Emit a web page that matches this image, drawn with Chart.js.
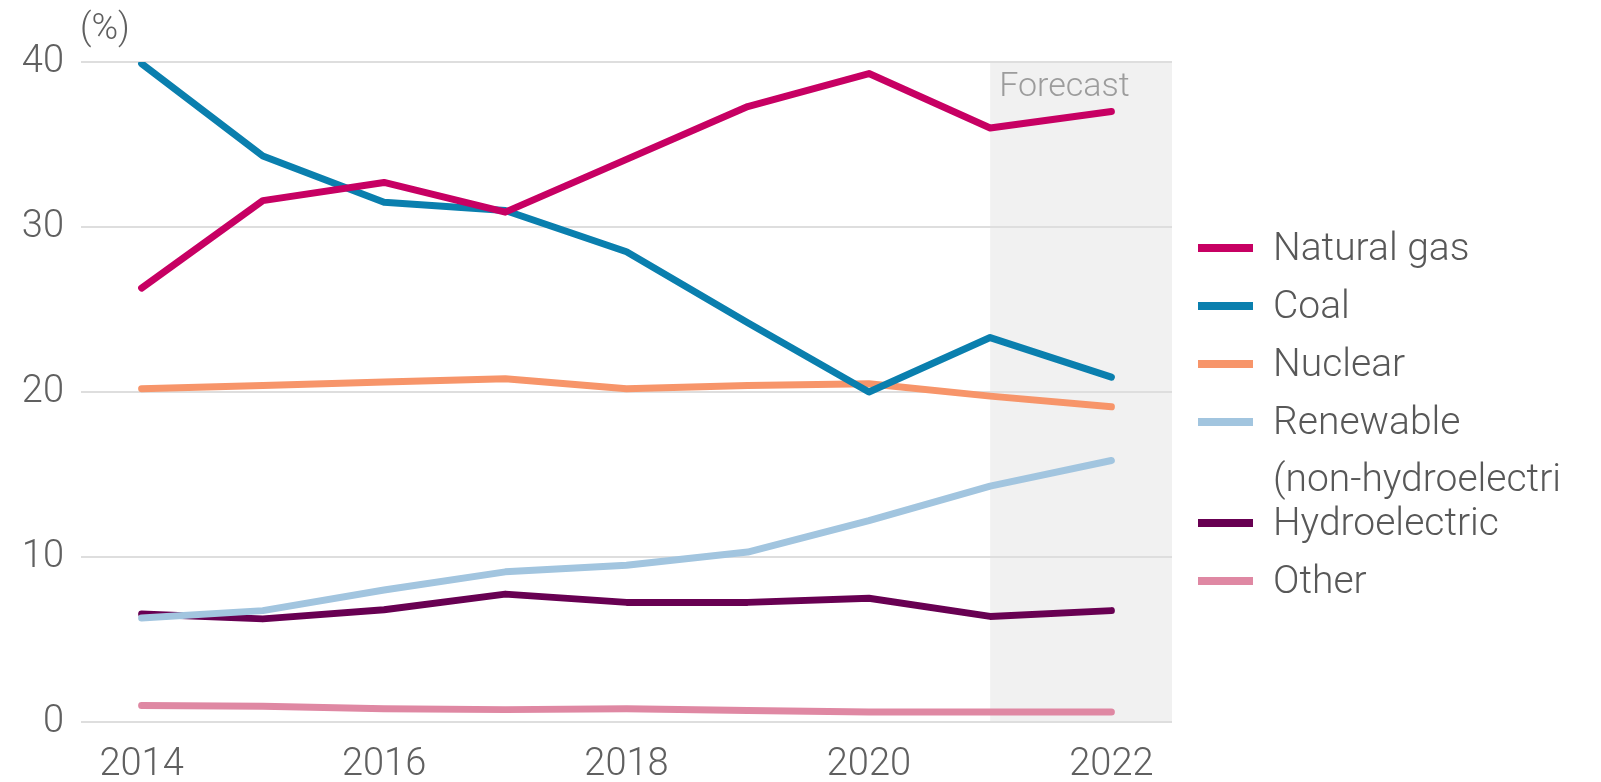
<!DOCTYPE html>
<html>
<head>
<meta charset="utf-8">
<script src="https://cdn.jsdelivr.net/npm/chart.js@4.4.0/dist/chart.umd.min.js"></script>
<style>
  html, body { margin: 0; padding: 0; background: #fff; }
</style>
</head>
<body>
<canvas id="myChart" width="1601" height="782"></canvas>
<script>
// values, share of generation in %
const years = ['2014', '2015', '2016', '2017', '2018', '2019', '2020', '2021', '2022'];
const xTickLabels = ['2014', '2016', '2018', '2020', '2022'];
const yTicks = [0, 10, 20, 30, 40];
const forecastFrom = '2021';

const naturalGas = [26.3, 31.6, 32.7, 30.9, 34.1, 37.3, 39.3, 36.0, 37.0];
const coal = [39.9, 34.3, 31.5, 31.0, 28.5, 24.2, 20.0, 23.3, 20.9];
const nuclear = [20.2, 20.4, 20.6, 20.8, 20.2, 20.4, 20.5, 19.75, 19.1];
const renewable = [6.3, 6.75, 8.0, 9.1, 9.5, 10.3, 12.2, 14.3, 15.85];
const hydro = [6.55, 6.25, 6.8, 7.75, 7.25, 7.25, 7.5, 6.4, 6.75];
const other = [1.0, 0.95, 0.8, 0.75, 0.8, 0.7, 0.6, 0.6, 0.6];

const seriesNames = ['Natural gas', 'Coal', 'Nuclear', ['Renewable', '(non-hydroelectri'], 'Hydroelectric', 'Other'];
const seriesColors = ['#c70063', '#0a7fae', '#f7956a', '#a2c5df', '#680052', '#df88a3'];
const seriesValues = [naturalGas, coal, nuclear, renewable, hydro, other];

const FONT = 'Roboto';
const TEXT = '#606060';

// grey band behind the forecast years
const forecastBand = {
  id: 'forecastBand',
  beforeDraw(chart) {
    const { ctx, chartArea, scales } = chart;
    const x0 = scales.x.getPixelForValue(years.indexOf(forecastFrom));
    ctx.save();
    ctx.fillStyle = '#f1f1f1';
    ctx.fillRect(x0, chartArea.top, chartArea.right - x0, chartArea.bottom - chartArea.top);
    ctx.fillStyle = '#9c9c9c';
    ctx.font = '300 34px ' + FONT;
    ctx.textBaseline = 'middle';
    ctx.textAlign = 'left';
    ctx.fillText('Forecast', x0 + 9, chartArea.top + 25);
    // unit label
    ctx.fillStyle = TEXT;
    ctx.font = '300 36px ' + FONT;
    ctx.fillText('(%)', 80, 30);
    ctx.restore();
  }
};

// legend on the right, with a two-line entry
const sideLegend = {
  id: 'sideLegend',
  afterDraw(chart) {
    const { ctx } = chart;
    let y = 248;
    ctx.save();
    ctx.font = '300 39px ' + FONT;
    ctx.textBaseline = 'middle';
    ctx.textAlign = 'left';
    chart.data.datasets.forEach((ds) => {
      const lines = Array.isArray(ds.label) ? ds.label : [ds.label];
      ctx.strokeStyle = ds.borderColor;
      ctx.lineWidth = 8;
      ctx.lineCap = 'butt';
      ctx.beginPath();
      ctx.moveTo(1198, y);
      ctx.lineTo(1253, y);
      ctx.stroke();
      ctx.fillStyle = '#585858';
      lines.forEach((t, i) => ctx.fillText(t, 1273, y + 2 + i * 57));
      y += 58 + (lines.length - 1) * 43;
    });
    ctx.restore();
  }
};

const ctx = document.getElementById('myChart');
new Chart(ctx, {
  type: 'line',
  data: {
    labels: years,
    datasets: seriesValues.map((vals, i) => ({
      label: seriesNames[i],
      data: vals,
      borderColor: seriesColors[i],
      backgroundColor: seriesColors[i],
      borderWidth: 7,
      pointRadius: 0,
      tension: 0,
      borderCapStyle: 'round',
      borderJoinStyle: 'round'
    }))
  },
  options: {
    responsive: false,
    animation: false,
    devicePixelRatio: 1,
    layout: { padding: { top: 62, right: 429, left: 0, bottom: 0 } },
    plugins: {
      legend: { display: false },
      tooltip: { enabled: false }
    },
    scales: {
      x: {
        offset: true,
        grid: { display: false, drawTicks: false },
        border: { display: false },
        ticks: {
          autoSkip: false,
          maxRotation: 0,
          padding: 21,
          color: TEXT,
          font: { family: FONT, size: 38, weight: '300' },
          callback: function(value, index) {
            return xTickLabels.includes(years[index]) ? years[index] : '';
          }
        },
        afterFit: (s) => { s.height = 60; }
      },
      y: {
        min: yTicks[0],
        max: yTicks[yTicks.length - 1],
        afterBuildTicks: (s) => { s.ticks = yTicks.map(v => ({ value: v })); },
        grid: { color: '#dedede', lineWidth: 2, drawTicks: false },
        border: { display: false },
        ticks: {
          padding: 17,
          color: TEXT,
          font: { family: FONT, size: 38, weight: '300' }
        },
        afterFit: (s) => { s.width = 81; }
      }
    }
  },
  plugins: [forecastBand, sideLegend]
});
</script>
</body>
</html>
